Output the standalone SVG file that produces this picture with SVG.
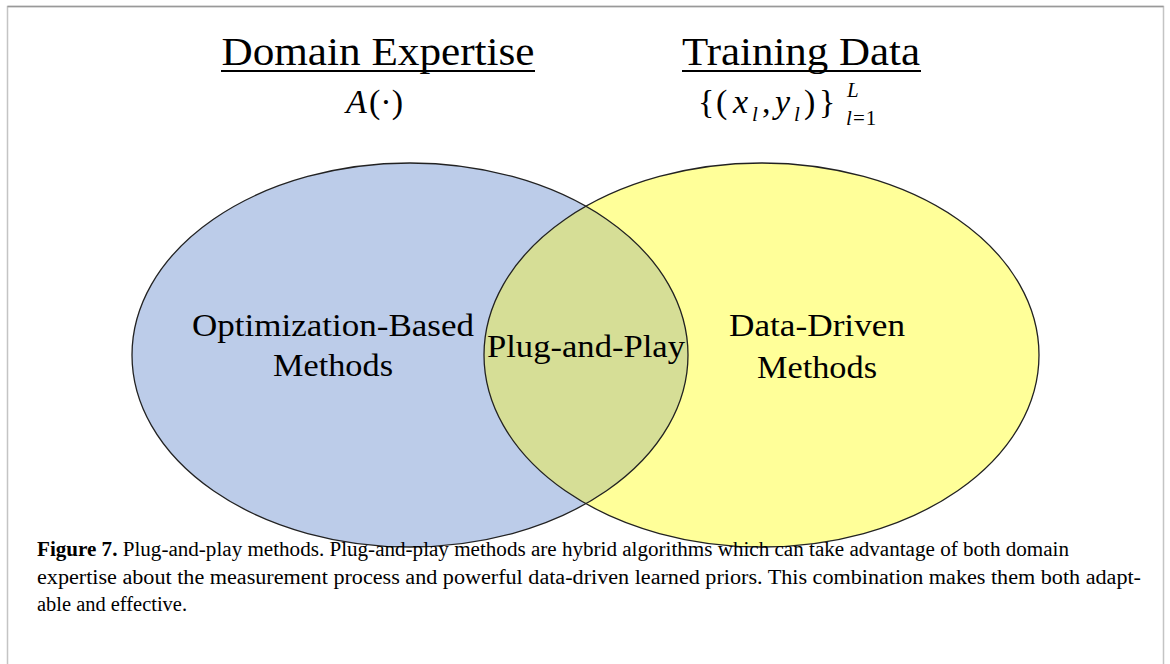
<svg xmlns="http://www.w3.org/2000/svg" width="1170" height="664" viewBox="0 0 1170 664">
  <defs>
    <style>
      text { font-family: "Liberation Serif", serif; fill: #000; }
      .title { font-size: 40px; text-anchor: middle; }
      .math { font-size: 34px; }
      .sub { font-size: 21px; }
      .lbl { font-size: 32px; text-anchor: middle; }
      .cap { font-size: 20px; }
      .outline { fill: none; stroke: #222; stroke-width: 1.3; }
    </style>
    <clipPath id="blueClip">
      <ellipse cx="410" cy="355" rx="278" ry="192"/>
    </clipPath>
  </defs>
  <rect x="0" y="0" width="1170" height="664" fill="#fff"/>
  <path d="M7.5 664 V6.5 H1163.5 V664" fill="none" stroke="#c4c4c4" stroke-width="1.5"/>
  <path d="M7.5 6.5 H1163.5" fill="none" stroke="#999" stroke-width="1.5"/>

  <g id="domain-expertise">
    <text class="title" x="378" y="65" textLength="313" lengthAdjust="spacingAndGlyphs">Domain Expertise</text>
    <line x1="221" y1="71" x2="535" y2="71" stroke="#000" stroke-width="2"/>
    <text class="math" x="346" y="113" font-style="italic">A</text>
    <text class="math" x="369" y="113">(·)</text>
  </g>
  <g id="training-data">
    <text class="title" x="801" y="65" textLength="238" lengthAdjust="spacingAndGlyphs">Training Data</text>
    <line x1="682" y1="71" x2="921" y2="71" stroke="#000" stroke-width="2"/>
    <text class="math" x="698" y="113">{</text>
    <text class="math" x="716" y="113">(</text>
    <text class="math" x="733" y="113" font-style="italic">x</text>
    <text class="sub" x="752" y="121" font-style="italic">l</text>
    <text class="math" x="762" y="113">,</text>
    <text class="math" x="775" y="113" font-style="italic">y</text>
    <text class="sub" x="794" y="121" font-style="italic">l</text>
    <text class="math" x="804" y="113">)</text>
    <text class="math" x="819" y="113">}</text>
    <text class="sub" x="847" y="97" font-style="italic">L</text>
    <text class="sub" x="846" y="125" font-style="italic">l</text>
    <text class="sub" x="853" y="125" letter-spacing="1">=1</text>
  </g>

  <g id="optimization-based">
    <ellipse cx="410" cy="355" rx="278" ry="192" fill="#bccce9"/>
  </g>
  <g id="data-driven">
    <ellipse cx="761.5" cy="355" rx="277.5" ry="192" fill="#ffff99"/>
  </g>
  <g id="plug-and-play">
    <ellipse cx="761.5" cy="355" rx="277.5" ry="192" fill="#d6de96" clip-path="url(#blueClip)"/>
  </g>
  <g id="outlines">
    <ellipse class="outline" cx="410" cy="355" rx="278" ry="192"/>
    <ellipse class="outline" cx="761.5" cy="355" rx="277.5" ry="192"/>
  </g>

  <g id="labels">
    <text class="lbl" x="333" y="336" textLength="282" lengthAdjust="spacingAndGlyphs">Optimization-Based</text>
    <text class="lbl" x="333" y="376" textLength="120" lengthAdjust="spacingAndGlyphs">Methods</text>
    <text class="lbl" x="586" y="357" textLength="198" lengthAdjust="spacingAndGlyphs">Plug-and-Play</text>
    <text class="lbl" x="817" y="336" textLength="176" lengthAdjust="spacingAndGlyphs">Data-Driven</text>
    <text class="lbl" x="817" y="378" textLength="120" lengthAdjust="spacingAndGlyphs">Methods</text>
  </g>

  <g id="caption">
    <text class="cap" x="37" y="556" textLength="1032" lengthAdjust="spacingAndGlyphs"><tspan font-weight="bold">Figure 7.</tspan> Plug-and-play methods. Plug-and-play methods are hybrid algorithms which can take advantage of both domain</text>
    <text class="cap" x="37" y="584" textLength="1104" lengthAdjust="spacingAndGlyphs">expertise about the measurement process and powerful data-driven learned priors. This combination makes them both adapt-</text>
    <text class="cap" x="37" y="611" textLength="150" lengthAdjust="spacingAndGlyphs">able and effective.</text>
  </g>
</svg>
